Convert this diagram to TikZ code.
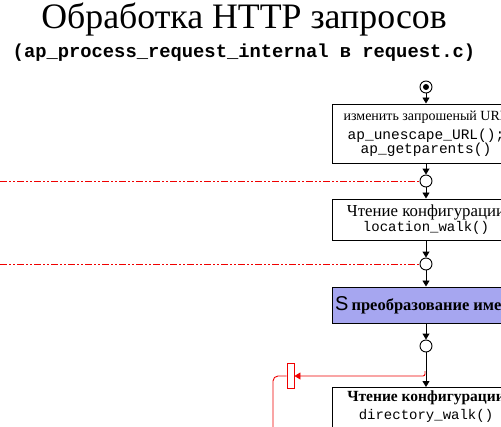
\documentclass[tikz,border=0pt]{standalone}
\usepackage{fontspec}
\setmainfont{Liberation Serif}
\setsansfont{Liberation Sans}
\setmonofont{Liberation Mono}
\usetikzlibrary{arrows.meta,shapes.multipart}
\definecolor{stagefill}{RGB}{166,166,240}
\definecolor{hookred}{RGB}{240,0,0}
\begin{document}
\begin{tikzpicture}[x=1pt,y=-1pt,
        proc/.style = {draw, line width=1pt, fill=white, minimum width=188pt,
            align=center, inner sep=0pt},
        junc/.style = {circle, draw, line width=0.9pt, fill=white,
            minimum size=12pt, inner sep=0pt},
        flow/.style = {line width=0.9pt, -{Triangle[width=7pt,length=6pt]}},
        redline/.style = {hookred, line width=0.9pt},
        hookdash/.style = {redline, dash pattern=on 7pt off 2pt on 2pt off 2pt on 2pt off 2pt}]
    \clip (0,0) rectangle (501,426);
    \fill[white] (0,0) rectangle (501,426);
    % title
    \node[anchor=base, inner sep=0pt, font=\fontsize{35.8}{40}\selectfont] (title)
        at (244,28) {Обработка HTTP запросов};
    \node[anchor=base, inner sep=0pt, font=\fontsize{18.8}{22}\selectfont\ttfamily\bfseries] (subtitle)
        at (244,57) {(ap\_process\_request\_internal в request.c)};
    % start
    \node[junc] (start) at (426,87) {};
    \fill (start.center) circle (3pt);
    % boxes and junctions
    \node[proc, minimum height=59pt] (urlfix) at (426,133.5)
        {{\fontsize{14}{16}\selectfont изменить запрошеный URL}\\[5pt]
         {\fontsize{14.5}{17}\selectfont\ttfamily ap\_unescape\_URL();}\\[-0.5pt]
         {\fontsize{14.5}{17}\selectfont\ttfamily ap\_getparents()}};
    \node[junc] (jn1) at (426,181) {};
    \node[proc, minimum height=41pt] (locwalk) at (426,219.5)
        {{\fontsize{16.8}{18}\selectfont Чтение конфигурации}\\[0pt]
         {\fontsize{14}{17}\selectfont\ttfamily location\_walk()}};
    \node[junc] (jn2) at (426,264) {};
    \node[proc, minimum height=36pt, fill=stagefill] (trans) at (426,305) {};
    \node[anchor=west, inner sep=0pt] (translabel) at (335,305)
        {{\fontsize{20}{20}\selectfont\sffamily S}\hspace{3pt}{\fontsize{16.5}{17}\selectfont\bfseries преобразование имени}};
    \node[junc] (jn3) at (426,346) {};
    \node[proc, anchor=north, rectangle split, rectangle split parts=2,
        rectangle split draw splits=false,
        rectangle split part fill={white,stagefill}] (dirwalk) at (426,387)
        {\rule{0pt}{13pt}{\fontsize{15.5}{17}\selectfont\bfseries Чтение конфигурации}
         \nodepart{two}\rule[-8pt]{0pt}{22pt}{\fontsize{14}{17}\selectfont\ttfamily directory\_walk()}};
    % flow
    \draw[flow] (start) -- (urlfix);
    \draw[flow] (urlfix) -- (jn1);
    \draw[flow] (jn1) -- (locwalk);
    \draw[flow] (locwalk) -- (jn2);
    \draw[flow] (jn2) -- (trans);
    \draw[flow] (trans) -- (jn3);
    \draw[flow] (jn3) -- (dirwalk.north);
    % hooks
    \coordinate (edge1) at (0,181);
    \coordinate (edge2) at (0,264);
    \draw[hookdash] (edge1) -- (jn1.west);
    \draw[hookdash] (edge2) -- (jn2.west);
    \node[draw=hookred, line width=0.9pt, fill=white, minimum width=7pt,
        minimum height=25pt, inner sep=0pt] (hook) at (290.5,376) {};
    \coordinate (tap) at (425,371);
    \coordinate (tail) at (273,430);
    \draw[redline, rounded corners=2pt, -{Triangle[width=7pt,length=6pt]}] (tap) |- (hook.east);
    \draw[redline, rounded corners=5pt] (hook.west) -| (tail);
\end{tikzpicture}
\end{document}
